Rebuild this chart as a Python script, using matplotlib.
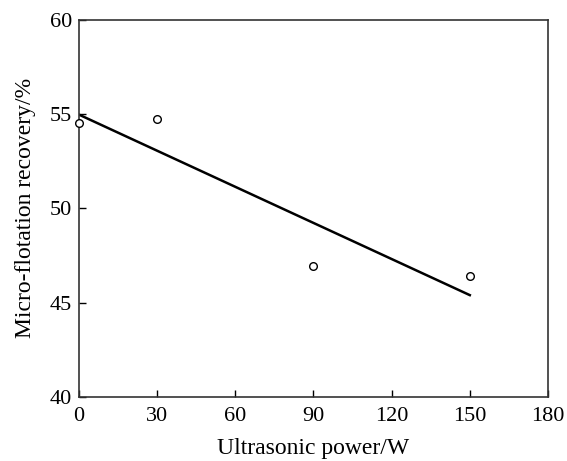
import matplotlib
matplotlib.use("Agg")
import matplotlib.pyplot as plt

power = [0, 30, 90, 150]
recovery = [54.55, 54.75, 46.95, 46.4]
fit_x = [0, 150]
fit_y = [54.98, 45.4]
xticks = [0, 30, 60, 90, 120, 150, 180]
yticks = [40, 45, 50, 55, 60]

plt.rcParams['font.family'] = ['Liberation Serif', 'DejaVu Serif']

fig = plt.figure(figsize=(5.67, 4.61), dpi=100)
ax = fig.add_axes([0.139, 0.139, 0.8275, 0.8178])
ax.plot(fit_x, fit_y, color='black', lw=1.8, zorder=2)
ax.plot(power, recovery, 'o', mfc='white', mec='black', ms=5.5, mew=1.0, zorder=3, clip_on=False)
ax.set_xlim(0, 180)
ax.set_ylim(40, 60)
ax.set_xticks(xticks)
ax.set_yticks(yticks)
ax.tick_params(direction='in', length=5, width=1, labelsize=16, top=False, right=False)
ax.tick_params(axis='x', pad=7)
ax.tick_params(axis='y', pad=5)
for s in ax.spines.values():
    s.set_linewidth(1.2)
    s.set_color('#333333')
ax.set_xlabel('Ultrasonic power/W', fontsize=17, labelpad=9)
ax.set_ylabel('Micro-flotation recovery/%', fontsize=17, labelpad=10)
fig.savefig('out.png', dpi=100)
